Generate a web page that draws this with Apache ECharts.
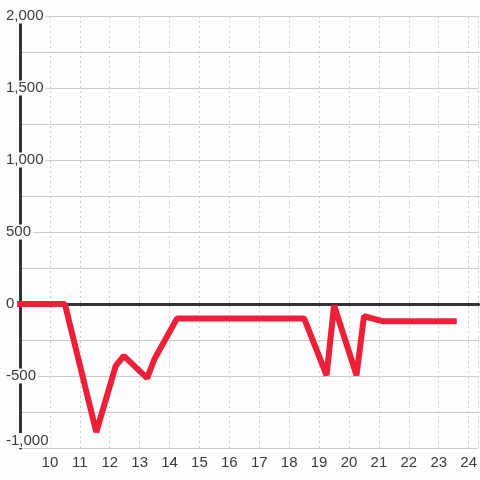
<!DOCTYPE html>
<html>
<head>
<meta charset="utf-8">
<script src="https://cdn.jsdelivr.net/npm/echarts@6/dist/echarts.min.js"></script>
<style>
  html, body { margin: 0; padding: 0; background: #fdfefd; }
  #chart { width: 480px; height: 480px; }
</style>
</head>
<body>
<div id="chart"></div>
<script>
// readings (x = position on the 9..24 scale)
const xs = [9, 10.5, 11.55, 12.2, 12.47, 13.25, 13.5, 14.25, 18.5, 19.25, 19.5, 20.25, 20.5, 21.15, 23.5];
const ys = [0, 0, -890, -430, -360, -515, -380, -100, -100, -495, -10, -495, -85, -120, -120];
const xMin = 9, xMax = 24.33;
const yMin = -1000, yMax = 2000;

const fontSize = 15;
const axisDark = '#333';
const textColor = '#3a3a3a';
const gridGray = '#cccccc';
const bg = '#fdfefd';

let chart = echarts.init(document.getElementById('chart'));
let option = {
    backgroundColor: bg,
    animation: false,
    grid: {
        left: 20,
        right: 0,
        top: 16,
        bottom: 32,
    },
    xAxis: [
        {
            type: 'value',
            min: xMin,
            max: xMax,
            interval: 1,
            axisLine: { show: false, onZero: false },
            axisTick: { show: false },
            axisLabel: {
                color: textColor,
                fontSize: fontSize,
                fontFamily: 'Liberation Sans',
                margin: 7,
                showMaxLabel: false,
                formatter: (v) => (v === xMin || v % 1 !== 0) ? '' : String(v),
            },
            splitLine: {
                show: true,
                lineStyle: { color: gridGray, width: 1, type: [2, 3] },
            },
        },
        {
            // zero line
            type: 'value',
            min: xMin,
            max: xMax,
            position: 'bottom',
            axisLine: { show: true, onZero: true, lineStyle: { color: axisDark, width: 3 } },
            axisTick: { show: false },
            axisLabel: { show: false },
            splitLine: { show: false },
        },
    ],
    yAxis: {
        type: 'value',
        min: yMin,
        max: yMax,
        interval: 500,
        axisLine: { show: true, onZero: false, lineStyle: { color: axisDark, width: 3 } },
        axisTick: { show: false },
        axisLabel: {
            color: textColor,
            fontSize: fontSize,
            fontFamily: 'Liberation Sans',
            align: 'left',
            margin: 14,
            backgroundColor: bg,
            padding: [0, 2, 0, 0],
            verticalAlignMinLabel: 'bottom',
            formatter: (v) => v.toLocaleString('en-US'),
        },
        splitLine: {
            show: true,
            lineStyle: { color: gridGray, width: 1 },
        },
        minorTick: { show: false, splitNumber: 2 },
        minorSplitLine: {
            show: true,
            lineStyle: { color: gridGray, width: 1 },
        },
    },
    series: [
        {
            type: 'line',
            xAxisIndex: 0,
            data: xs.map((x, i) => [x, ys[i]]),
            showSymbol: false,
            symbol: 'none',
            clip: false,
            z: 5,
            lineStyle: {
                color: '#ee2038',
                width: 6,
                cap: 'square',
                join: 'bevel',
            },
        },
    ],
};
chart.setOption(option);
</script>
</body>
</html>
